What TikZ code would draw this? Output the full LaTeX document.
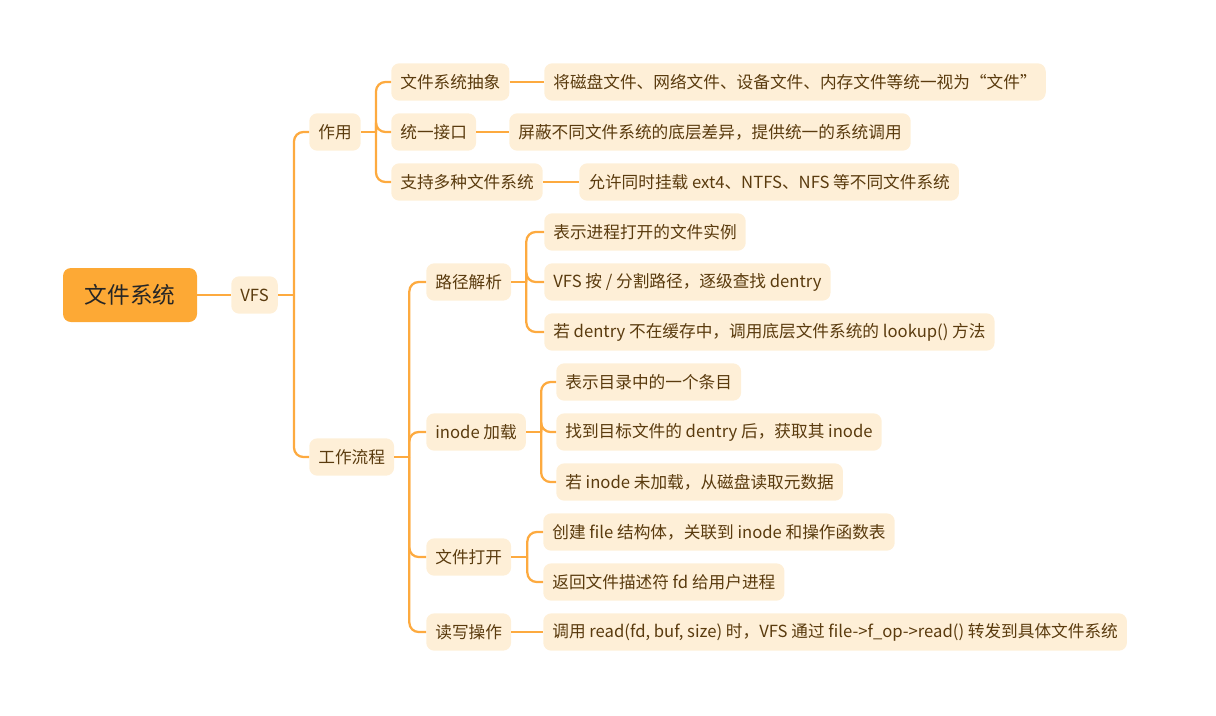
\documentclass[tikz,border=0pt]{standalone}
\usepackage{fontspec}
\setmainfont{Noto Sans CJK SC}
\definecolor{mmorange}{HTML}{FDA935}
\definecolor{mmlight}{HTML}{FEEFD7}
\definecolor{mmline}{HTML}{FDAA3F}
\definecolor{mmtext}{HTML}{5A3B0E}
\begin{document}
\begin{tikzpicture}[x=0.75pt, y=-0.75pt, font=\fontsize{12.5}{15}\selectfont,
  box/.style={fill=mmlight, text=mmtext, rounded corners=6pt, minimum height=28pt, inner xsep=6.8pt, anchor=west},
  link/.style={mmline, line width=1.7pt, rounded corners=7pt}]
\useasboundingbox (0,0) rectangle (1216,715);
\node[fill=mmorange, text=black!85, rounded corners=6pt, minimum width=100.5pt, minimum height=40.5pt, font=\fontsize{17}{20}\selectfont] (root) at (130,295) {文件系统};
\node[box] (vfs) at (231,295) {VFS}; \node[box] (use) at (309,132) {作用}; \node[box] (flow) at (309,457) {工作流程};
% 作用
\node[box] (abs) at (391,82) {文件系统抽象}; \node[box] (absd) at (544,82) {将磁盘文件、网络文件、设备文件、内存文件等统一视为“文件”};
\node[box] (ifc) at (391,132) {统一接口}; \node[box] (ifcd) at (509,132) {屏蔽不同文件系统的底层差异，提供统一的系统调用};
\node[box] (multi) at (391,182) {支持多种文件系统}; \node[box] (multid) at (579,182) {允许同时挂载 ext4、NTFS、NFS 等不同文件系统};
% 工作流程
\node[box] (path) at (426,282) {路径解析}; \node[box] (path1) at (544,232) {表示进程打开的文件实例};
\node[box] (path2) at (544,282) {VFS 按 / 分割路径，逐级查找 dentry}; \node[box] (path3) at (544,332) {若 dentry 不在缓存中，调用底层文件系统的 lookup() 方法};
\node[box] (ino) at (426,432) {inode 加载}; \node[box] (ino1) at (556,382) {表示目录中的一个条目};
\node[box] (ino2) at (556,432) {找到目标文件的 dentry 后，获取其 inode}; \node[box] (ino3) at (556,482) {若 inode 未加载，从磁盘读取元数据};
\node[box] (open) at (426,557) {文件打开}; \node[box] (open1) at (543,532) {创建 file 结构体，关联到 inode 和操作函数表};
\node[box] (open2) at (543,582) {返回文件描述符 fd 给用户进程};
\node[box] (rw) at (426,632) {读写操作}; \node[box] (rw1) at (543,632) {调用 read(fd, buf, size) 时，VFS 通过 file->f\_op->read() 转发到具体文件系统};
% connectors
\draw[link] (root) -- (vfs); \draw[link] (vfs.east) -- ++(16,0) coordinate (jv); \draw[link] (jv) |- (use.west); \draw[link] (jv) |- (flow.west);
\draw[link] (use.east) -- ++(15,0) coordinate (ju); \foreach \c in {abs,ifc,multi} \draw[link] (ju) |- (\c.west);
\draw[link] (abs) -- (absd); \draw[link] (ifc) -- (ifcd); \draw[link] (multi) -- (multid);
\draw[link] (flow.east) -- ++(15,0) coordinate (jf); \foreach \c in {path,ino,open,rw} \draw[link] (jf) |- (\c.west);
\draw[link] (path.east) -- ++(15,0) coordinate (jp); \foreach \c in {path1,path2,path3} \draw[link] (jp) |- (\c.west);
\draw[link] (ino.east) -- ++(15,0) coordinate (ji); \foreach \c in {ino1,ino2,ino3} \draw[link] (ji) |- (\c.west);
\draw[link] (open.east) -- ++(16,0) coordinate (jo); \foreach \c in {open1,open2} \draw[link] (jo) |- (\c.west);
\draw[link] (rw) -- (rw1);
\end{tikzpicture}
\end{document}
